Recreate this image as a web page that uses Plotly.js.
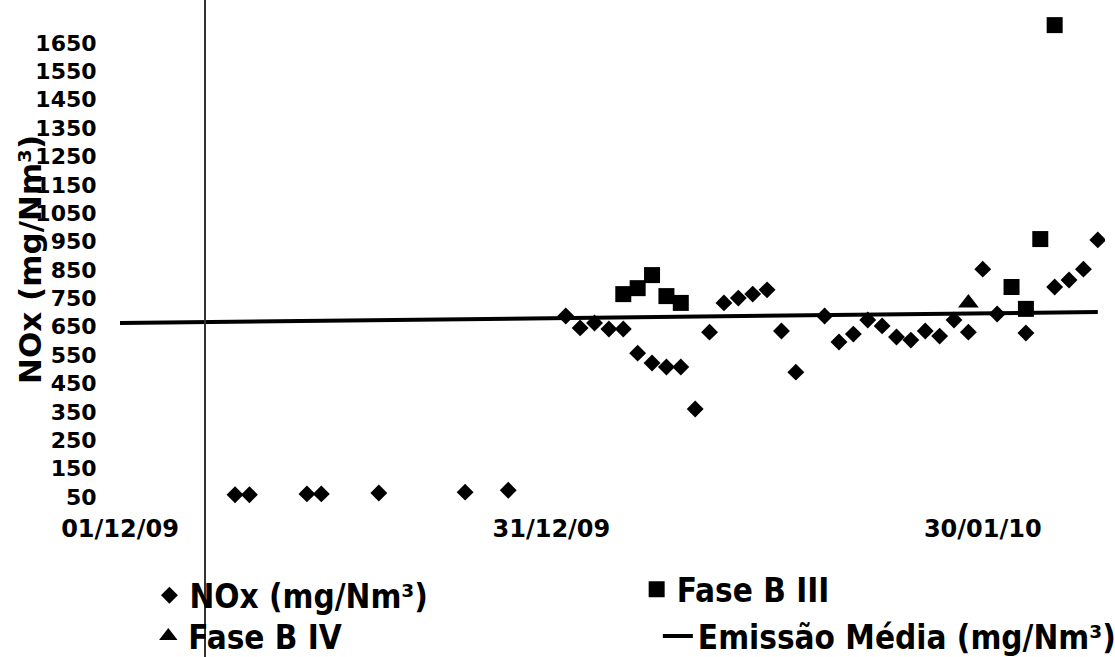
<!DOCTYPE html>
<html>
<head>
<meta charset="utf-8">
<script src="https://cdn.plot.ly/plotly-3.0.1.min.js"></script>
<style>html,body{margin:0;padding:0;background:#fff;}#chart{width:1115px;height:657px;}</style>
</head>
<body>
<div id="chart"></div>
<script>
// NOx (mg/Nm3) daily values (diamonds)
const noxDates = [
  '2009-12-09','2009-12-10','2009-12-14','2009-12-15','2009-12-19','2009-12-25','2009-12-28',
  '2010-01-01','2010-01-02','2010-01-03','2010-01-04','2010-01-05','2010-01-06','2010-01-07',
  '2010-01-08','2010-01-09','2010-01-10','2010-01-11','2010-01-12','2010-01-13','2010-01-14',
  '2010-01-15','2010-01-16','2010-01-17','2010-01-19','2010-01-20','2010-01-21','2010-01-22',
  '2010-01-23','2010-01-24','2010-01-25','2010-01-26','2010-01-27','2010-01-28','2010-01-29',
  '2010-01-30','2010-01-31','2010-02-02','2010-02-04','2010-02-05','2010-02-06','2010-02-07'
];
const noxValues = [
  58, 58, 61, 61, 64, 67, 74,
  688, 646, 663, 642, 642, 557, 522,
  508, 508, 360, 631, 734, 751, 765,
  780, 635, 490, 688, 596, 624, 674,
  653, 614, 603, 635, 617, 674, 631,
  853, 695, 628, 790, 815, 853, 956
];
// Fase B III (squares)
const faseB3Dates = ['2010-01-05','2010-01-06','2010-01-07','2010-01-08','2010-01-09','2010-02-01','2010-02-02','2010-02-03','2010-02-04'];
const faseB3Values = [765, 786, 832, 758, 734, 790, 713, 959, 1713];
// Fase B IV (triangle)
const faseB4Dates = ['2010-01-29'];
const faseB4Values = [734];
// Emissão Média line
const mediaDates = ['2009-12-01','2010-02-07'];
const mediaValues = [663, 702];
// Axis ticks
const xTickVals = ['2009-12-01','2009-12-31','2010-01-30'];
const xTickText = ['01/12/09','31/12/09','30/01/10'];
const yTickVals = [50,150,250,350,450,550,650,750,850,950,1050,1150,1250,1350,1450,1550,1650];
const yTitle = 'NOx (mg/Nm³)';

const FONT = 'DejaVu Sans';
const LEGFONT = {family: 'DejaVu Sans Condensed', size: 33, weight: 700, color: '#000'};
const traces = [
  {x: noxDates, y: noxValues, type: 'scatter', mode: 'markers', name: 'NOx (mg/Nm³)', legend: 'legend',
   marker: {symbol: 'diamond', size: 13, color: '#000'}},
  {x: faseB3Dates, y: faseB3Values, type: 'scatter', mode: 'markers', name: 'Fase B III', legend: 'legend2',
   marker: {symbol: 'square', size: 16, color: '#000'}},
  {x: faseB4Dates, y: faseB4Values, type: 'scatter', mode: 'markers', name: 'Fase B IV', legend: 'legend3',
   marker: {symbol: 'triangle-up', size: 18, color: '#000'}},
  {x: mediaDates, y: mediaValues, type: 'scatter', mode: 'lines', name: 'Emissão Média (mg/Nm³)', legend: 'legend4',
   line: {color: '#000', width: 4}}
];
function leg(x, y) {
  return {orientation: 'h', xref: 'container', yref: 'container', x: x, y: y,
          xanchor: 'left', yanchor: 'middle', font: LEGFONT, bgcolor: 'rgba(0,0,0,0)'};
}
const layout = {
  width: 1115, height: 657,
  margin: {l: 120, r: 10, t: 5, b: 152},
  paper_bgcolor: '#fff', plot_bgcolor: '#fff',
  showlegend: true,
  font: {family: FONT, color: '#000', weight: 700},
  xaxis: {
    type: 'date', range: ['2009-12-01', '2010-02-07 12:00'],
    tickmode: 'array', tickvals: xTickVals, ticktext: xTickText,
    showgrid: false, zeroline: false, showline: false,
    ticks: 'outside', ticklen: 2, tickcolor: 'rgba(0,0,0,0)',
    tickfont: {family: FONT, size: 24, weight: 700, color: '#000'}
  },
  yaxis: {
    range: [21.8, 1783.9],
    tickmode: 'array', tickvals: yTickVals,
    showgrid: false, zeroline: false, showline: false,
    ticks: 'outside', ticklen: 18, tickcolor: 'rgba(0,0,0,0)',
    tickfont: {family: FONT, size: 22, weight: 700, color: '#000'}
  },
  annotations: [
    {text: yTitle, xref: 'paper', yref: 'paper', x: -0.0914, y: 0.492,
     xanchor: 'center', yanchor: 'middle', textangle: -90, showarrow: false,
     font: {family: FONT, size: 31, weight: 700, color: '#000'}}
  ],
  legend: leg(0.134, 0.094),
  legend2: leg(0.571, 0.103),
  legend3: leg(0.133, 0.032),
  legend4: leg(0.590, 0.032),
  shapes: [
    {type: 'line', xref: 'paper', yref: 'paper', x0: 0.0863, x1: 0.0863, y0: -0.31, y1: 1.02,
     line: {color: '#333', width: 2}}
  ]
};
Plotly.newPlot('chart', traces, layout, {displayModeBar: false, staticPlot: true});
</script>
</body>
</html>
